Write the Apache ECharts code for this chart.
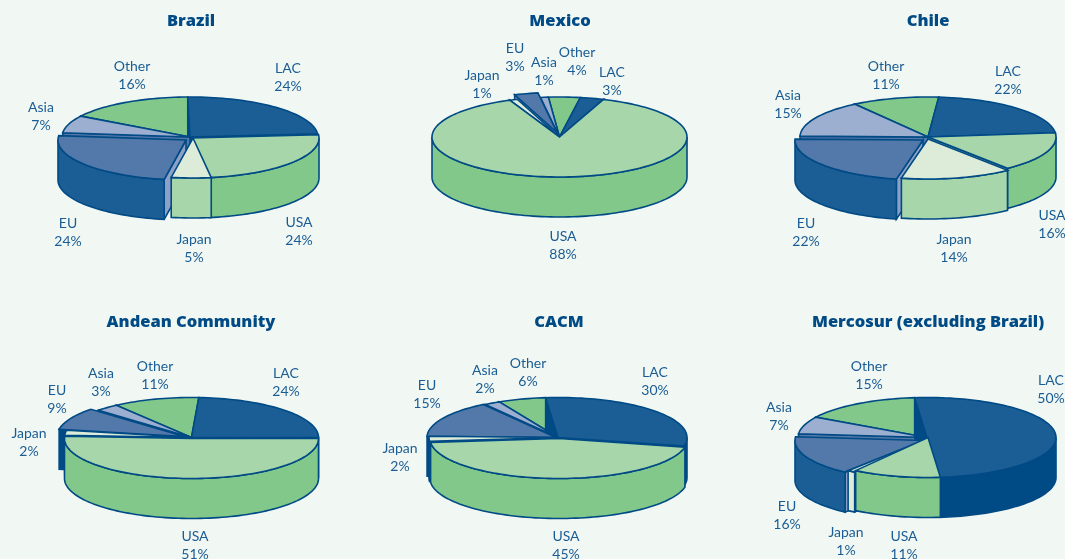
<!DOCTYPE html>
<html>
<head>
<meta charset="utf-8">
<style>html,body{margin:0;padding:0;background:#f1f8f3}#chart{width:1065px;height:559px}</style>
<script src="https://cdn.jsdelivr.net/npm/echarts@6/dist/echarts.min.js"></script>
</head>
<body>
<div id="chart"></div>
<script>
// Export destination shares, percent of total
const destinations = ['LAC', 'USA', 'Japan', 'EU', 'Asia', 'Other'];
const brazilShares = [24, 24, 5, 24, 7, 16];
const mexicoShares = [3, 88, 1, 3, 1, 4];
const chileShares = [22, 16, 14, 22, 15, 11];
const andeanShares = [24, 51, 2, 9, 3, 11];
const cacmShares = [30, 45, 2, 15, 2, 6];
const mercosurShares = [50, 11, 1, 16, 7, 15];

// Slice colours: lid, outer wall, exposed cut face
const lidColors = ['#1b5e96', '#a6d6a9', '#dcecd9', '#5279aa', '#9dafd1', '#82c88a'];
const wallColors = ['#004a85', '#82c88a', '#a6d6a9', '#1b5e96', '#5279aa', '#82c88a'];
const faceColors = ['#004a85', '#82c88a', '#a6d6a9', '#8da0c8', '#5279aa', '#82c88a'];
const inkColor = '#004a85';
const textColor = '#1a5c94';

const RY = 40, DEPTH = 40;

// Per-panel layout: pie centre, radius, rotation, slice offsets and label anchors
const panels = [
  { title: 'Brazil', shares: brazilShares, cx: 190, cy: 137, rx: 128, start: -1, titleX: 191, titleY: 13,
    offsets: [[0, 0], [1, 1], [3, 1], [-4, 3], [0, 0], [0, 0]],
    labels: [[288, 77], [299, 231], [194, 248], [68, 232], [41, 116], [132, 75]] },
  { title: 'Mexico', shares: mexicoShares, cx: 559.5, cy: 137, rx: 127.5, start: 9.4, titleX: 560, titleY: 13,
    offsets: [[0, 0], [0, 0], [0, 0], [-2.5, -4.5], [0, 0], [0, 0]],
    labels: [[612, 81], [563, 245], [482, 84], [515, 57], [544, 71], [577, 61]] },
  { title: 'Chile', shares: chileShares, cx: 928, cy: 137, rx: 128, start: 4.8, titleX: 928, titleY: 13,
    offsets: [[0, 0], [0, 0], [0, 2], [-5, 3], [0, 0], [0, 0]],
    labels: [[1008, 80], [1052, 224], [954, 248], [806, 232], [788, 104], [886, 75]] },
  { title: 'Andean Community', shares: andeanShares, cx: 191.5, cy: 437.5, rx: 127, start: 3.3, titleX: 191, titleY: 314,
    offsets: [[0, 0], [0, 1], [0, 0], [-7.5, -1], [0, 0], [0, 0]], darkFace: true,
    labels: [[286, 382], [195, 545], [29, 442], [57, 399], [101, 382], [155, 375]] },
  { title: 'CACM', shares: cacmShares, cx: 558, cy: 437.5, rx: 129, start: -5.5, titleX: 559, titleY: 314,
    offsets: [[0, 0], [1, 1], [0, 0], [-2, 0], [0, 0], [0, 0]], darkFace: true,
    labels: [[655, 381], [566, 545], [400, 457], [427, 394], [485, 379], [528, 372]] },
  { title: 'Mercosur (excluding Brazil)', shares: mercosurShares, cx: 927, cy: 437.5, rx: 129, start: -5.5, titleX: 928, titleY: 314,
    offsets: [[0, 0], [1, 0], [0, 1.5], [-3, 3], [0, 0], [0, 0]], paleJapanWall: true,
    labels: [[1051, 389], [904, 545], [846, 541], [787, 515], [779, 416], [869, 375]] }
];

const rad = d => d * Math.PI / 180;

// Rim point of the ellipse at a clockwise angle from 12 o'clock
function rim(p, ox, oy, a, drop) {
  return [p.cx + ox + p.rx * Math.sin(rad(a)), p.cy + oy - RY * Math.cos(rad(a)) + (drop || 0)];
}

function arcPoints(p, ox, oy, a0, a1, drop) {
  const pts = [];
  const n = Math.max(2, Math.ceil(Math.abs(a1 - a0) / 2));
  for (let i = 0; i <= n; i++) pts.push(rim(p, ox, oy, a0 + (a1 - a0) * i / n, drop));
  return pts;
}

function renderSlice(p, params, api) {
  const i = params.dataIndex;
  const value = api.value(0);
  let before = 0;
  for (let k = 0; k < i; k++) before += p.shares[k];
  const a0 = p.start + before * 3.6;
  const a1 = a0 + value * 3.6;
  const [ox, oy] = p.offsets[i];
  const mid = (a0 + a1) / 2;
  const z = Math.round((-Math.cos(rad(mid)) + 2) * 100);
  const line = { stroke: inkColor, lineWidth: 1.6, lineJoin: 'miter', miterLimit: 4 };
  const apex = [p.cx + ox, p.cy + oy];
  const apexLow = [apex[0], apex[1] + DEPTH];
  const children = [];

  const wallFill = (i === 2 && p.paleJapanWall) ? lidColors[2] : wallColors[i];
  const faceFill = (i === 3 && p.darkFace) ? inkColor : faceColors[i];

  // Cut faces show only when they turn towards the viewer
  const addFace = a => {
    const top = rim(p, ox, oy, a), low = rim(p, ox, oy, a, DEPTH);
    children.push({ type: 'polygon', z2: z, shape: { points: [apex, top, low, apexLow] },
      style: Object.assign({ fill: faceFill }, line) });
  };
  if (Math.sin(rad(a0)) < 0) addFace(a0);
  if (Math.sin(rad(a1)) > 0) addFace(a1);

  // Outer wall, limited to the front half of the rim
  [[90, 270], [450, 630], [-270, -90]].forEach(([lo, hi]) => {
    const s = Math.max(a0, lo), e = Math.min(a1, hi);
    if (e > s) {
      const upper = arcPoints(p, ox, oy, s, e, 0);
      const lower = arcPoints(p, ox, oy, e, s, DEPTH);
      children.push({ type: 'polygon', z2: z + 1, shape: { points: upper.concat(lower) },
        style: Object.assign({ fill: wallFill }, line) });
    }
  });

  // Top of the slice
  children.push({ type: 'polygon', z2: z + 2, shape: { points: [apex].concat(arcPoints(p, ox, oy, a0, a1, 0)) },
    style: Object.assign({ fill: lidColors[i] }, line) });

  // Name and share
  const [lx, ly] = p.labels[i];
  children.push({ type: 'text', z2: 1000, x: lx, y: ly, style: {
    text: destinations[i] + '\n' + value + '%',
    fill: textColor, font: '14px Lato', lineHeight: 18, align: 'center', verticalAlign: 'middle' } });
  return { type: 'group', children };
}

const chart = echarts.init(document.getElementById('chart'), null, { renderer: 'canvas' });
chart.setOption({
  backgroundColor: '#f1f8f3',
  animation: false,
  title: panels.map(p => ({
    text: p.title, left: p.titleX, top: p.titleY, textAlign: 'center', padding: 0,
    textStyle: { color: '#004a85', fontFamily: 'Open Sans', fontWeight: 800, fontSize: 16.5 }
  })),
  series: panels.map(p => ({
    type: 'custom', coordinateSystem: 'none', silent: true,
    data: p.shares.map(v => [v]),
    renderItem: (params, api) => renderSlice(p, params, api)
  }))
});
</script>
</body>
</html>
